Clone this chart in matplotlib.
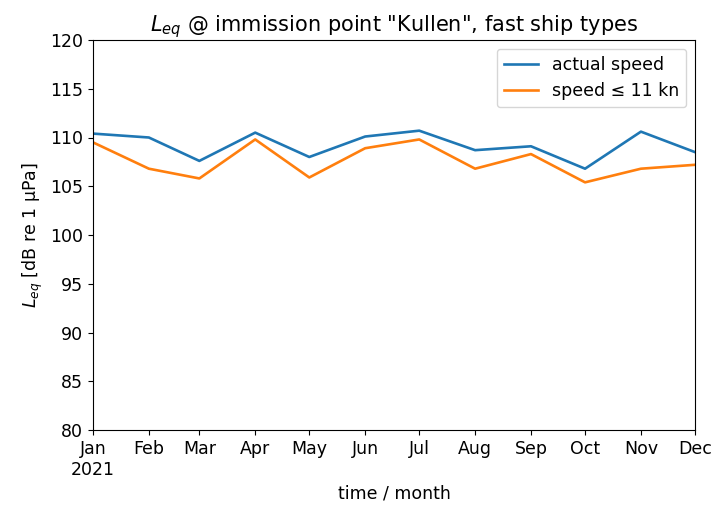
import matplotlib
matplotlib.use("Agg")
import matplotlib.pyplot as plt
import datetime as dt

months = [dt.date(2021, m, 1) for m in range(1, 13)]
actual_speed = [110.4, 110.0, 107.6, 110.5, 108.0, 110.1, 110.7, 108.7, 109.1, 106.8, 110.6, 108.5]
speed_11kn = [109.5, 106.8, 105.8, 109.8, 105.9, 108.9, 109.8, 106.8, 108.3, 105.4, 106.8, 107.2]
tick_labels = ['Jan\n2021', 'Feb', 'Mar', 'Apr', 'May', 'Jun', 'Jul', 'Aug', 'Sep', 'Oct', 'Nov', 'Dec']

plt.rcParams['font.size'] = 12.5
fig = plt.figure(figsize=(7.12, 5.09), dpi=100)
ax = fig.add_axes([93/712, 1-430/509, (695-93)/712, (430-40)/509])
ax.plot(months, actual_speed, color='#1f77b4', lw=1.9, label='actual speed')
ax.plot(months, speed_11kn, color='#ff7f0e', lw=1.9, label='speed ≤ 11 kn')
ax.set_ylim(80, 120)
ax.set_xlim(months[0], months[-1])
ax.set_xticks(months)
ax.set_xticklabels(tick_labels)
ax.set_xlabel('time / month')
ax.set_ylabel(r'$L_{eq}$ [dB re 1 µPa]')
ax.set_title(r'$L_{eq}$ @ immission point "Kullen", fast ship types', fontsize=15)
ax.legend(loc='upper right')
fig.savefig('out.png', dpi=100)
